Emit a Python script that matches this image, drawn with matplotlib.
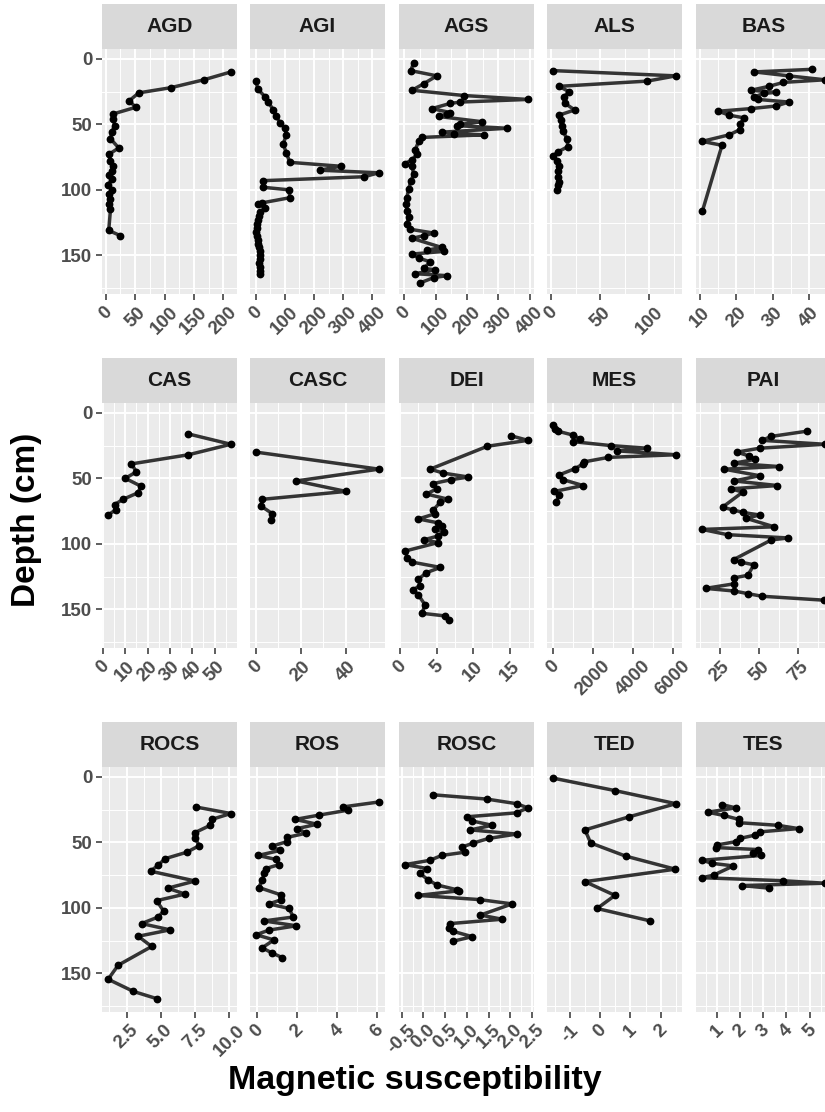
import matplotlib
matplotlib.use("Agg")
import matplotlib.pyplot as plt
from matplotlib.ticker import FixedLocator, AutoMinorLocator

plt.rcParams['font.family'] = ['Liberation Sans', 'DejaVu Sans']

# depth (cm) and magnetic susceptibility for each core
agd_depth = [10, 16, 22, 26, 32, 37, 42, 46, 51, 56, 61, 68, 73, 78, 82, 86, 89, 92, 96, 100, 103, 107, 111, 115, 131, 135]
agd_ms = [213, 167, 111, 56, 40, 51, 13, 13, 15, 10, 8, 22, 5, 8, 12, 10, 5, 10, 4, 10, 5, 8, 6, 8, 5, 25]

agi_depth = [17, 23, 29, 33, 39, 44, 49, 53, 58, 65, 72, 79, 82, 85, 87, 90, 93, 98, 100, 106, 110, 111, 114,
             117, 120, 123, 126, 129, 132, 135, 138, 141, 144, 147, 150, 153, 156, 159, 162, 164]
agi_ms = [1, 6, 32, 43, 60, 71, 83, 100, 105, 94, 105, 117, 292, 219, 423, 372, 26, 24, 114, 117, 20, 8, 32,
          14, 10, 8, 5, 3, 2, 4, 6, 8, 10, 14, 16, 15, 11, 13, 14, 16]

ags_depth = [3, 9, 13, 19, 24, 28, 31, 33, 34, 38, 41, 42, 44, 48, 50, 51, 53, 56, 57, 58, 60, 63, 69.5, 73, 77,
             80, 82, 88, 93.5, 99.6, 106, 111, 116, 121, 126, 130, 133, 135, 137, 144, 146, 147, 149, 152, 155,
             160, 161, 164, 165.5, 167, 171]
ags_ms = [30, 21, 104, 62, 25, 190, 394, 179, 147, 88, 147, 136, 110, 248, 179, 168, 328, 120, 158, 253, 56, 46,
          35, 40, 25, 3, 25, 30, 21, 14, 8.5, 6.4, 8.5, 14, 8.5, 17, 94, 62, 25, 120, 73, 126, 25, 46, 83,
          62, 99, 35, 136, 94, 51]

als_depth = [9, 13, 17, 21, 25, 29, 34, 39, 43, 47, 51, 55, 61, 67, 71, 74, 78, 82, 86, 90, 94, 96, 100]
als_ms = [2, 127, 98, 8, 18, 13, 14, 24, 8, 10, 11, 12, 16, 17, 7, 2, 6, 7.5, 6.6, 7, 7.5, 6.6, 6]

bas_depth = [8, 10, 13, 16, 18, 21, 24, 25.6, 26.4, 29, 31, 33, 36, 38, 40, 43, 45, 50, 54, 58, 63, 66, 116]
bas_ms = [41, 25, 34.5, 44.5, 33, 29, 24, 31, 27.6, 25, 26, 34.5, 31, 24, 15, 18, 22, 21, 21, 18, 10.5, 16, 10.6]

cas_depth = [16, 24, 32, 39, 45, 50, 56, 61, 66, 70, 74, 78]
cas_ms = [38, 57.3, 38.3, 12.7, 15, 10, 17, 15.7, 9, 5.2, 5.7, 2.3]

casc_depth = [30, 43, 52, 60, 66, 71, 77, 82]
casc_ms = [0.2, 54.5, 18, 40, 3, 2.2, 7.4, 6.7]

dei_depth = [17.5, 21, 25.5, 43, 46, 49, 51, 54, 58, 62, 66, 68, 74.5, 77, 81, 84, 86, 89, 91, 94, 97, 99,
             105.5, 110.5, 114, 118, 122, 127, 132, 135, 139, 146.5, 153, 155, 158]
dei_ms = [15.1, 17.4, 11.9, 4.1, 5.9, 9.3, 7, 4.5, 5, 3.6, 6.6, 5.5, 4.5, 4.8, 2.5, 5.2, 5.7, 4.8, 6, 5.2, 3.2, 5.2,
          0.7, 1.0, 1.7, 5.5, 3.6, 2.5, 2.7, 1.8, 2.5, 3.4, 3, 6.1, 6.7]

mes_depth = [9, 12, 14, 17, 20, 22, 25, 27, 29, 32, 34, 37.5, 39, 42.5, 47.5, 51, 55.5, 60, 63, 68]
mes_ms = [20, 134, 248, 1012, 1374, 1012, 2897, 4682, 3194, 6136, 2778, 1538, 1508, 1126, 298, 516, 1508, 84, 298, 184]

pai_depth = [14, 18, 21, 24, 27, 30, 33, 35.5, 38.5, 41, 43, 48, 52, 55.5, 58, 60.5, 72, 74, 76, 78, 80.5, 87, 89,
             93, 95.5, 97, 112, 114, 116, 124, 126, 130.5, 134, 136, 138, 140, 143]
pai_ms = [80.4, 57.7, 51.7, 91.8, 50.2, 35.8, 43.7, 47.4, 33.7, 62.5, 27.6, 50.2, 34, 61.6, 31.9, 39.5, 26.6, 33,
          39.5, 50.2, 41.6, 59.5, 13.6, 29.8, 68.5, 57.7, 33.7, 38.4, 46.6, 42.7, 33.7, 34, 15.8, 34, 42.7, 51.7, 91.2]

rocs_depth = [23, 28, 32.5, 37, 42.5, 47, 52.5, 57.5, 62.5, 67.5, 72, 79.5, 85, 89.5, 94.5, 102.5, 107, 112,
              116.8, 121.7, 129.5, 143.8, 154.5, 163.8, 169.3]
rocs_ms = [7.54, 10.1, 8.7, 8.6, 7.5, 7.5, 7.8, 6.9, 5.3, 4.8, 4.25, 7.5, 5.5, 6.76, 4.7, 5.2, 4.8, 3.6, 5.67, 3.35,
           4.33, 1.89, 1.16, 3, 4.7]

ros_depth = [19.2, 23, 25.5, 29.2, 32.5, 36.2, 39.5, 43, 46.2, 49.5, 53, 56.2, 60, 63, 67, 70, 73.7, 78.7, 84.5,
             90, 94, 97, 100.5, 107, 110, 113.7, 117, 120.5, 124.5, 130.5, 134.5, 138]
ros_ms = [6.08, 4.27, 4.52, 3.1, 1.9, 3.0, 2.0, 2.46, 1.5, 1.48, 0.72, 1.14, 0.05, 0.92, 1.09, 0.44, 0.36, 0.25,
          0.09, 1.17, 1.17, 0.59, 1.6, 1.8, 0.34, 1.96, 0.59, -0.05, 0.84, 0.25, 0.75, 1.26]

rosc_depth = [13.7, 17, 20.5, 23.7, 27.5, 30.5, 33.7, 37, 40.5, 43.7, 47, 50.5, 53.7, 57.5, 60, 63.7, 67, 70,
              73.7, 78.7, 82.5, 86.2, 87, 90.5, 93.7, 97, 105.5, 108.7, 112, 115.5, 118, 122, 125.5]
rosc_ms = [0.22, 1.46, 2.14, 2.4, 2.14, 1.0, 1.12, 1.58, 1.08, 2.14, 1.5, 1.15, 0.88, 0.96, 0.42, 0.15, -0.42,
           0.09, -0.08, 0.11, 0.31, 0.77, 0.81, -0.12, 1.29, 2.04, 1.31, 1.81, 0.62, 0.58, 0.69, 1.12, 0.68]

ted_depth = [1, 10.5, 20.5, 30.5, 40.5, 50.5, 60.5, 70.5, 80, 90.5, 100.5, 110]
ted_ms = [-1.55, 0.49, 2.5, 0.96, -0.5, -0.31, 0.84, 2.48, -0.5, 0.49, -0.1, 1.66]

tes_depth = [21.2, 23.7, 27, 29.5, 32.5, 35, 37, 39.5, 42, 44.5, 47, 49.5, 52, 54, 55.5, 58, 60, 63.7, 66, 68,
             75, 77, 79.3, 81.2, 83, 85]
tes_ms = [1.22, 1.8, 0.59, 1.29, 1.94, 1.94, 3.62, 4.52, 2.86, 2.63, 1.99, 1.8, 1.0, 0.97, 2.75, 2.53, 2.89, 0.35,
          0.78, 1.7, 0.85, 0.35, 3.84, 5.66, 2.09, 3.25]

site_names = ["AGD", "AGI", "AGS", "ALS", "BAS", "CAS", "CASC", "DEI", "MES", "PAI",
              "ROCS", "ROS", "ROSC", "TED", "TES"]
site_data = [(agd_depth, agd_ms), (agi_depth, agi_ms), (ags_depth, ags_ms), (als_depth, als_ms),
             (bas_depth, bas_ms), (cas_depth, cas_ms), (casc_depth, casc_ms), (dei_depth, dei_ms),
             (mes_depth, mes_ms), (pai_depth, pai_ms), (rocs_depth, rocs_ms), (ros_depth, ros_ms),
             (rosc_depth, rosc_ms), (ted_depth, ted_ms), (tes_depth, tes_ms)]

x_breaks = [[0, 50, 100, 150, 200], [0, 100, 200, 300, 400], [0, 100, 200, 300, 400], [0, 50, 100],
            [10, 20, 30, 40], [0, 10, 20, 30, 40, 50], [0, 20, 40], [0, 5, 10, 15], [0, 2000, 4000, 6000],
            [25, 50, 75], [2.5, 5.0, 7.5, 10.0], [0, 2, 4, 6], [-0.5, 0.0, 0.5, 1.0, 1.5, 2.0, 2.5],
            [-1, 0, 1, 2], [1, 2, 3, 4, 5]]
x_labels = [["0", "50", "100", "150", "200"], ["0", "100", "200", "300", "400"], ["0", "100", "200", "300", "400"],
            ["0", "50", "100"], ["10", "20", "30", "40"], ["0", "10", "20", "30", "40", "50"], ["0", "20", "40"],
            ["0", "5", "10", "15"], ["0", "2000", "4000", "6000"], ["25", "50", "75"],
            ["2.5", "5.0", "7.5", "10.0"], ["0", "2", "4", "6"],
            ["-0.5", "0.0", "0.5", "1.0", "1.5", "2.0", "2.5"], ["-1", "0", "1", "2"], ["1", "2", "3", "4", "5"]]
y_breaks = [0, 50, 100, 150]

W, H = 825, 1112
fig = plt.figure(figsize=(W / 100, H / 100), dpi=100)

col_left = [102, 250, 399, 547, 696]
row_top = [49, 403, 767]
pw, ph, sh = 135, 245, 45

all_depth = [d for dep, _ in site_data for d in dep]
dmin, dmax = min(all_depth), max(all_depth)
dpad = 0.05 * (dmax - dmin)

for i, (name, (dep, ms)) in enumerate(zip(site_names, site_data)):
    r, c = divmod(i, 5)
    L, T = col_left[c], row_top[r]
    ax = fig.add_axes([L / W, 1 - (T + ph) / H, pw / W, ph / H])
    ax.set_facecolor("#EBEBEB")
    ax.plot(ms, dep, color="#333333", lw=2.5, zorder=3)
    ax.plot(ms, dep, "o", color="black", ms=4.6, zorder=4)

    xr = max(ms) - min(ms)
    ax.set_xlim(min(ms) - 0.05 * xr, max(ms) + 0.05 * xr)
    ax.set_ylim(dmax + dpad, dmin - dpad)

    ax.xaxis.set_major_locator(FixedLocator(x_breaks[i]))
    ax.xaxis.set_minor_locator(AutoMinorLocator(2))
    ax.set_xticklabels(x_labels[i], rotation=45, ha="center", va="top",
                       fontsize=13.5, fontweight="bold", color="#4D4D4D")
    ax.yaxis.set_major_locator(FixedLocator(y_breaks))
    ax.yaxis.set_minor_locator(AutoMinorLocator(2))
    ax.grid(which="major", color="white", lw=1.4)
    ax.grid(which="minor", color="white", lw=0.7)
    ax.set_axisbelow(True)
    for s in ax.spines.values():
        s.set_visible(False)
    ax.tick_params(which="minor", length=0)
    ax.tick_params(axis="x", which="major", length=4, width=1.1, color="#333333", pad=3)
    if c == 0:
        ax.set_yticklabels([str(v) for v in y_breaks], fontsize=13.5, fontweight="bold", color="#4D4D4D")
        ax.tick_params(axis="y", which="major", length=4, width=1.1, color="#333333", pad=3)
    else:
        ax.tick_params(axis="y", which="major", length=0, labelleft=False)

    sax = fig.add_axes([L / W, 1 - T / H, pw / W, sh / H])
    sax.set_facecolor("#D9D9D9")
    sax.set_xticks([])
    sax.set_yticks([])
    for s in sax.spines.values():
        s.set_visible(False)
    sax.text(0.5, 0.5, name, ha="center", va="center", fontsize=15, fontweight="bold",
             color="#1A1A1A", transform=sax.transAxes)

fig.text(27 / W, 1 - 520 / H, "Depth (cm)", rotation=90, ha="center", va="center",
         fontsize=24, fontweight="bold", color="black")
fig.text(415 / W, 1 - 1080 / H, "Magnetic susceptibility", ha="center", va="center",
         fontsize=24.5, fontweight="bold", color="black")

fig.savefig("out.png", dpi=100)
